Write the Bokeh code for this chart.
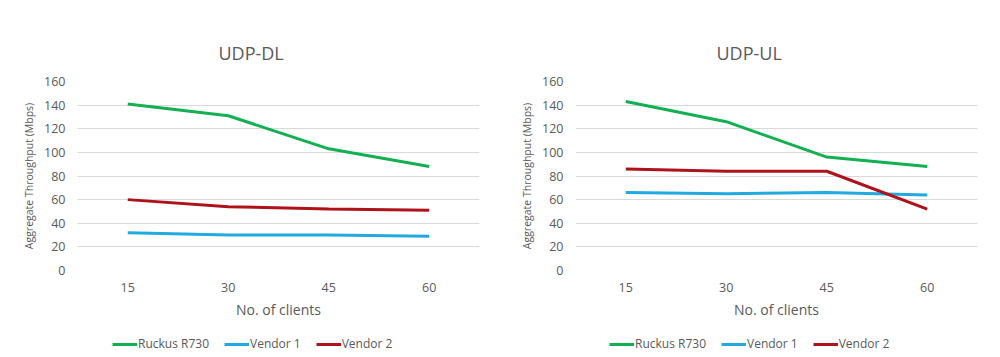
from bokeh.plotting import figure
from bokeh.layouts import row, column
from bokeh.models import FactorRange, Range1d, Legend, LegendItem, FixedTicker
from bokeh.embed import file_html
from bokeh.resources import INLINE

clients = ["15", "30", "45", "60"]
series_names = ["Ruckus R730", "Vendor 1", "Vendor 2"]
dl_ruckus = [141, 131, 103, 88]
dl_vendor1 = [32, 30, 30, 29]
dl_vendor2 = [60, 54, 52, 51]
ul_ruckus = [143, 126, 96, 88]
ul_vendor1 = [66, 65, 66, 64]
ul_vendor2 = [86, 84, 84, 52]
y_ticks = [0, 20, 40, 60, 80, 100, 120, 140, 160]

COLORS = ["#12B050", "#21A9E1", "#AE121A"]
TXT = "#595959"
FONT = "Open Sans"


def make(title, series, border_left, border_right, title_offset, legend_x):
    p = figure(width=500, height=330, x_range=FactorRange(*clients),
               y_range=Range1d(0, 160), output_backend="svg",
               toolbar_location=None, min_border_left=border_left,
               min_border_right=border_right, min_border_top=81,
               min_border_bottom=60)
    p.outline_line_color = None
    p.background_fill_color = "white"
    p.border_fill_color = "white"
    p.title.text = title
    p.title.align = "left"
    p.title.offset = title_offset
    p.title.standoff = 34
    p.title.text_font = FONT
    p.title.text_font_size = "18px"
    p.title.text_font_style = "normal"
    p.title.text_color = TXT

    p.xgrid.grid_line_color = None
    p.ygrid.grid_line_color = "#D9D9D9"
    p.ygrid.grid_line_width = 1
    p.yaxis.ticker = FixedTicker(ticks=y_ticks)

    for ax in (p.xaxis[0], p.yaxis[0]):
        ax.axis_line_color = None
        ax.major_tick_line_color = None
        ax.minor_tick_line_color = None
        ax.major_tick_out = 0
        ax.major_tick_in = 0
        ax.major_label_text_font = FONT
        ax.major_label_text_font_size = "12.5px"
        ax.major_label_text_color = TXT
        ax.axis_label_text_font = FONT
        ax.axis_label_text_font_style = "normal"
        ax.axis_label_text_color = TXT
    p.xaxis.major_label_standoff = 12
    p.xaxis.axis_label = "No. of clients"
    p.xaxis.axis_label_text_font_size = "14px"
    p.xaxis.axis_label_standoff = 5
    p.yaxis.major_label_standoff = 12
    p.yaxis.axis_label = "Aggregate Throughput (Mbps)"
    p.yaxis.axis_label_text_font_size = "10.5px"
    p.yaxis.axis_label_standoff = 5

    for vals, col in zip(series, COLORS):
        p.line(clients, vals, line_color=col, line_width=3)

    # legend strip below the chart
    lg = figure(width=500, height=27, x_range=FactorRange(*clients),
                y_range=Range1d(1000, 1001), output_backend="svg",
                toolbar_location=None, min_border=0)
    lg.axis.visible = False
    lg.grid.visible = False
    lg.outline_line_color = None
    lg.border_fill_color = "white"
    items = []
    for name, vals, col in zip(series_names, series, COLORS):
        r = lg.line(clients, vals, line_color=col, line_width=3)
        items.append(LegendItem(label=name, renderers=[r]))
    legend = Legend(items=items, orientation="horizontal",
                    location=(legend_x, 5), margin=0, padding=0,
                    spacing=15, label_standoff=1, glyph_width=25,
                    glyph_height=14, border_line_alpha=0,
                    background_fill_alpha=0, label_text_font=FONT,
                    label_text_font_size="12px", label_text_color=TXT)
    lg.add_layout(legend)
    return column(p, lg, spacing=0)


c1 = make("UDP-DL", [dl_ruckus, dl_vendor1, dl_vendor2], 77, 21, 141, 35)
c2 = make("UDP-UL", [ul_ruckus, ul_vendor1, ul_vendor2], 75, 23, 141, 34)
layout = row(c1, c2, spacing=0)
open("out.html", "w").write(file_html(layout, INLINE))
